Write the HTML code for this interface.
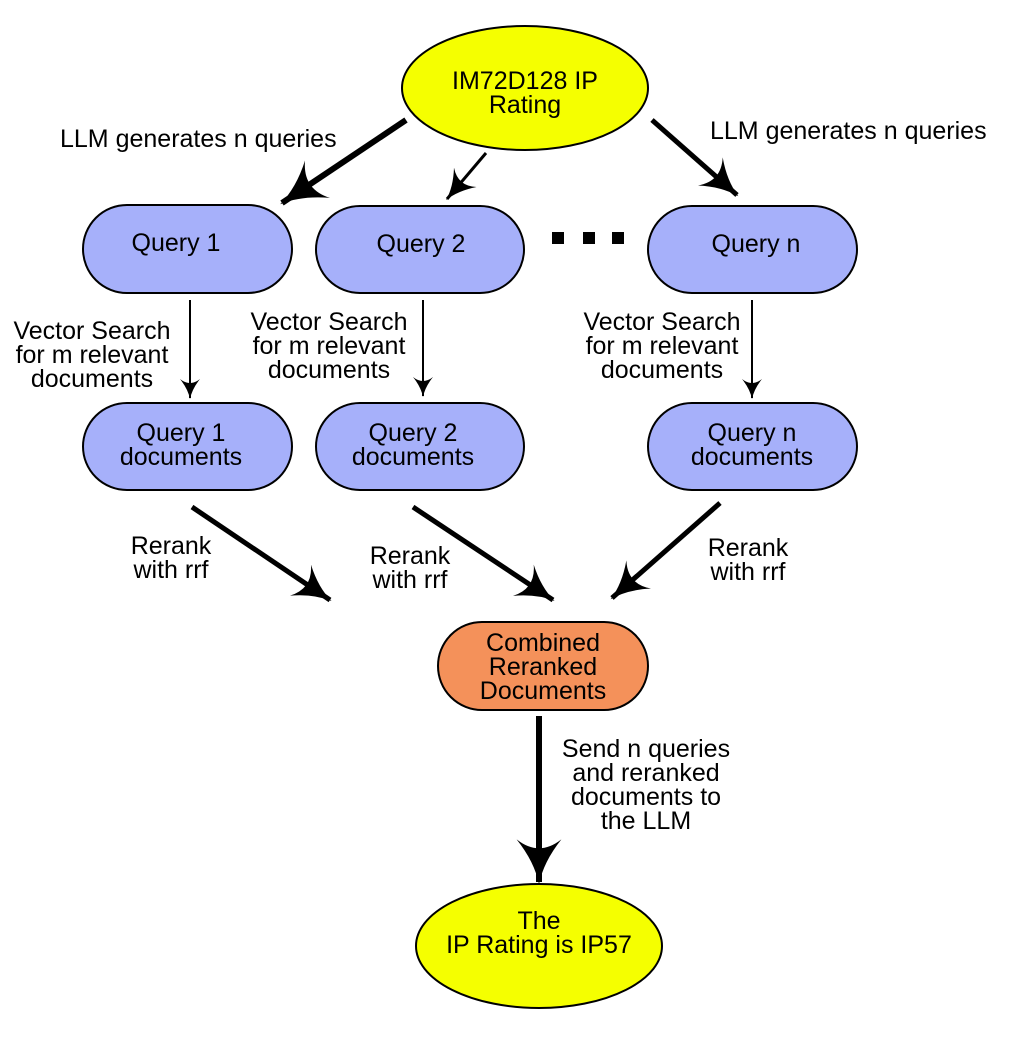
<!DOCTYPE html>
<html><head><style>body{margin:0;background:#fff}</style></head><body>
<svg width="1014" height="1034" viewBox="0 0 1014 1034" xmlns="http://www.w3.org/2000/svg" font-family="Liberation Sans, sans-serif" font-size="25" fill="#000">
<defs>
<marker id="a" viewBox="0 0 10 10" refX="9.5" refY="5" markerWidth="7.5" markerHeight="7.5" orient="auto" markerUnits="strokeWidth">
<path d="M0,0 Q5,4 10,5 Q5,6 0,10 Q4,5 0,0 Z" fill="#000"/></marker>
<marker id="b" viewBox="0 0 10 10" refX="9.5" refY="5" markerWidth="10" markerHeight="10" orient="auto" markerUnits="strokeWidth">
<path d="M0,0 Q5,4 10,5 Q5,6 0,10 Q4,5 0,0 Z" fill="#000"/></marker>
</defs>
<g stroke="#000" stroke-width="2">
<ellipse cx="525" cy="88" rx="123" ry="62" fill="#f5ff00"/>
<ellipse cx="539" cy="946" rx="123" ry="62" fill="#f5ff00"/>
<rect x="83" y="205" width="209" height="88" rx="44" fill="#a6b0fa"/>
<rect x="316" y="206" width="208" height="87" rx="44" fill="#a6b0fa"/>
<rect x="648" y="206" width="209" height="87" rx="44" fill="#a6b0fa"/>
<rect x="83" y="403" width="209" height="87" rx="44" fill="#a6b0fa"/>
<rect x="316" y="403" width="208" height="87" rx="44" fill="#a6b0fa"/>
<rect x="648" y="403" width="209" height="87" rx="44" fill="#a6b0fa"/>
<rect x="438" y="622" width="210" height="88" rx="44" fill="#f4915a"/>
</g>
<g stroke="#000" fill="none">
<line x1="406" y1="120" x2="282" y2="203" stroke-width="6" marker-end="url(#a)"/>
<line x1="486" y1="153" x2="447" y2="199" stroke-width="3" marker-end="url(#b)"/>
<line x1="652" y1="120" x2="737" y2="195" stroke-width="5" marker-end="url(#a)"/>
<line x1="190" y1="300" x2="190" y2="398" stroke-width="2" marker-end="url(#b)"/>
<line x1="423" y1="300" x2="423" y2="396" stroke-width="2" marker-end="url(#b)"/>
<line x1="752" y1="300" x2="752" y2="398" stroke-width="2" marker-end="url(#b)"/>
<line x1="192" y1="507" x2="330" y2="600" stroke-width="5" marker-end="url(#a)"/>
<line x1="413" y1="507" x2="553" y2="600" stroke-width="5" marker-end="url(#a)"/>
<line x1="720" y1="503" x2="612" y2="598" stroke-width="5" marker-end="url(#a)"/>
<line x1="539" y1="716" x2="539" y2="882" stroke-width="6" marker-end="url(#a)"/>
</g>
<rect x="552" y="232" width="12" height="12"/><rect x="583" y="232" width="12" height="12"/><rect x="612" y="232" width="12" height="12"/>
<g text-anchor="middle">
<text x="525" y="89">IM72D128 IP</text><text x="525" y="113">Rating</text>
<text x="176" y="251">Query 1</text>
<text x="421" y="252">Query 2</text>
<text x="756" y="252">Query n</text>
<text x="181" y="441">Query 1</text><text x="181" y="465">documents</text>
<text x="413" y="441">Query 2</text><text x="413" y="465">documents</text>
<text x="752" y="441">Query n</text><text x="752" y="465">documents</text>
<text x="543" y="651">Combined</text><text x="543" y="675">Reranked</text><text x="543" y="699">Documents</text>
<text x="539" y="929">The</text><text x="539" y="953">IP Rating is IP57</text>
<text x="92" y="339">Vector Search</text><text x="92" y="363">for m relevant</text><text x="92" y="387">documents</text>
<text x="329" y="330">Vector Search</text><text x="329" y="354">for m relevant</text><text x="329" y="378">documents</text>
<text x="662" y="330">Vector Search</text><text x="662" y="354">for m relevant</text><text x="662" y="378">documents</text>
<text x="171" y="554">Rerank</text><text x="171" y="578">with rrf</text>
<text x="410" y="564">Rerank</text><text x="410" y="588">with rrf</text>
<text x="748" y="556">Rerank</text><text x="748" y="580">with rrf</text>
<text x="646" y="757">Send n queries</text><text x="646" y="781">and reranked</text><text x="646" y="805">documents to</text><text x="646" y="829">the LLM</text>
</g>
<text x="60" y="147">LLM generates n queries</text>
<text x="710" y="139">LLM generates n queries</text>
</svg>
</body></html>
